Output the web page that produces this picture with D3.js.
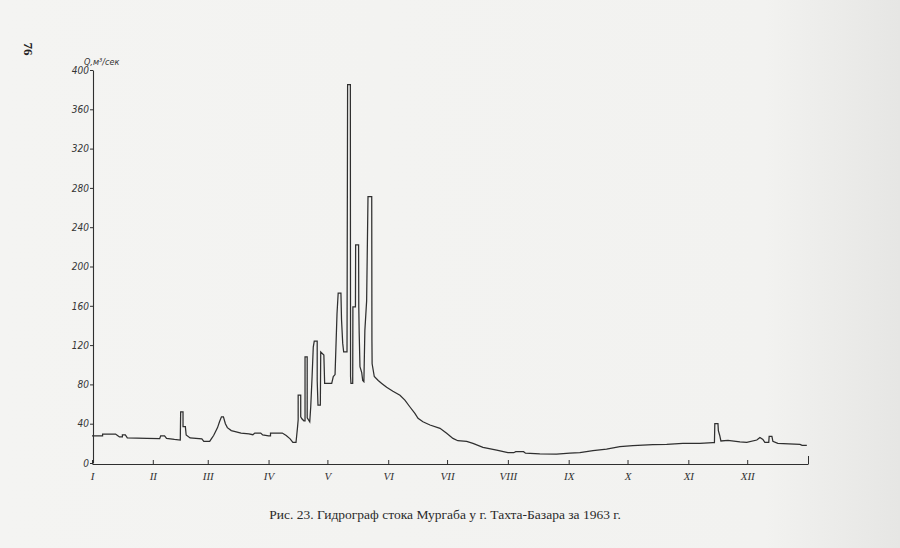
<!DOCTYPE html>
<html><head><meta charset="utf-8">
<script src="https://cdn.jsdelivr.net/npm/d3@7/dist/d3.min.js"></script>
<style>
html,body{margin:0;padding:0;background:#f3f3f1;}
svg{display:block;}
</style></head>
<body>
<svg id="chart" width="900" height="548"></svg>
<script>
// ---- data (day of year 1963, discharge m3/s) ----
const days = [0,5.4,5.4,12,13,14,15.5,15.5,17,18,28,34.5,35,37,38,42,45,45.2,46.4,46.4,47.6,48,50,56,57,60,61,62,63,64,65,66,67,68,69,71,73,75,76,80,82,83,86,87,90,91,91,97,99,101,102.4,104,104.3,104.8,105.1,105.1,106.4,106.4,107,108,108.6,108.6,109.7,109.7,111,111.5,112.2,112.8,113.3,114.8,114.8,115.2,116.4,116.6,118.2,118.6,122.2,123,123.9,124.9,125.5,126.9,127.2,127.8,128.3,130,130.3,131.7,131.8,132,132.9,133,134.3,134.4,135.9,136,136.2,136.6,137.5,138,138.6,139.1,140,140.7,142.6,142.7,142.8,143.9,145.9,147.7,150.2,153.4,157,159.5,162.1,164.6,166.2,168.7,172.3,177.4,180.8,184,186.5,191,194.2,199.3,206.3,212,215,216,220,221,228.3,236.8,243.6,248.7,255.4,262.3,269.1,275.7,285.9,293,301.2,309.8,316.5,317.3,317.5,319.1,319.3,320,320.6,324.2,330.3,333.8,338.9,340.5,342,343,345,345.2,346.6,347.1,349.6,360.9,362,364.4];
const flow = [27.5,27.5,29.5,29.5,28,26.5,26.5,28.5,28.5,25.5,25,24.8,27.5,27.5,25,24,23.4,52,52,37,37,28.5,25.5,24.5,22,22,25,28,32,36,42,47,47,40,36,33,32,31,30.5,29.6,28.8,30.5,30.5,28.6,27.5,27.5,30.5,30.5,28,24.6,21,21,27,37,44,69,69,47,45,43,43,108,108,46,42,57,88,118,124,124,84,59,59,113,110,81,81,88,90,152,173,173,146,122,113,113,385,385,88,81,81,159,159,222,222,159,133,98,92,84,82.7,135,165,271,271,125,101,88,84,81,77,73,69,64,57,50.5,45.5,42,38.7,35.3,30.2,25,22.7,22,20,16,13.2,10.5,10.5,11.5,11.5,10,9.2,9,10,10.5,12.5,14.2,16.6,17.6,18.6,19,20,20,20.7,20.7,40,40,33,28,22.4,23,21.4,21,23.4,26,24,21,21,27,27,22,20,19,18,18];
const monthStarts = [0,31,59,90,120,151,181,212,243,273,304,334,365];
const monthLabels = ["I","II","III","IV","V","VI","VII","VIII","IX","X","XI","XII",""];
const yTicks = [0,40,80,120,160,200,240,280,320,360,400];
const yTitle = "Q,м³/сек";
const caption = "Рис. 23. Гидрограф стока Мургаба у г. Тахта-Базара за 1963 г.";
const pageNo = "76";

const svg = d3.select("#chart");
const defs = svg.append("defs");
const g = defs.append("linearGradient").attr("id","paper").attr("x1","0").attr("x2","1");
g.append("stop").attr("offset","0").attr("stop-color","#f4f4f2");
g.append("stop").attr("offset","0.85").attr("stop-color","#f2f2f0");
g.append("stop").attr("offset","1").attr("stop-color","#e6e6e4");
svg.append("rect").attr("width",900).attr("height",548).attr("fill","url(#paper)");

const x = d3.scaleLinear().domain([0,365]).range([92,808]);
const y = d3.scaleLinear().domain([0,400]).range([463,70]);
const ink = "#2f2f2f";

// y axis
const ya = svg.append("g").attr("transform","translate(93,0)")
  .call(d3.axisLeft(y).tickValues(yTicks).tickSizeInner(3).tickSizeOuter(0).tickPadding(1));
ya.select(".domain").attr("stroke",ink).attr("stroke-width",1.1);
ya.selectAll(".tick line").attr("stroke",ink);
ya.selectAll(".tick text").attr("fill","#333").attr("font-style","italic")
  .attr("font-family","'Liberation Sans Narrow','DejaVu Sans Condensed',sans-serif").attr("font-size",10);

// x axis
const xa = svg.append("g").attr("transform","translate(0,464)")
  .call(d3.axisBottom(x).tickValues(monthStarts).tickSizeInner(-4).tickSizeOuter(0).tickPadding(8)
    .tickFormat((d,i)=>monthLabels[i]));
xa.select(".domain").attr("stroke",ink).attr("stroke-width",1.1);
xa.selectAll(".tick line").attr("stroke",ink).attr("y2",d=>d===365?-8:-4);
xa.selectAll(".tick text").attr("fill","#333").attr("font-style","italic")
  .attr("font-family","'Liberation Serif',serif").attr("font-size",11);

// hydrograph
const pts = days.map((d,i)=>[d,flow[i]]);
svg.append("path").datum(pts)
  .attr("fill","none").attr("stroke",ink).attr("stroke-width",1.25).attr("stroke-linejoin","miter")
  .attr("d", d3.line().x(d=>x(d[0])).y(d=>y(d[1])));

// texts
svg.append("text").attr("x",84).attr("y",65).text(yTitle)
  .attr("font-family","'Liberation Sans Narrow','DejaVu Sans Condensed',sans-serif")
  .attr("font-style","italic").attr("font-size",9).attr("fill","#333");
svg.append("text").attr("x",445).attr("y",519).attr("text-anchor","middle").text(caption)
  .attr("font-family","'Liberation Serif',serif").attr("font-size",13.5).attr("fill","#2a2a2a");
svg.append("text").attr("transform","translate(24,49) rotate(90)").attr("text-anchor","middle")
  .text(pageNo).attr("font-family","'Liberation Serif',serif").attr("font-weight","bold")
  .attr("font-size",13).attr("fill","#222");
</script>
</body></html>
